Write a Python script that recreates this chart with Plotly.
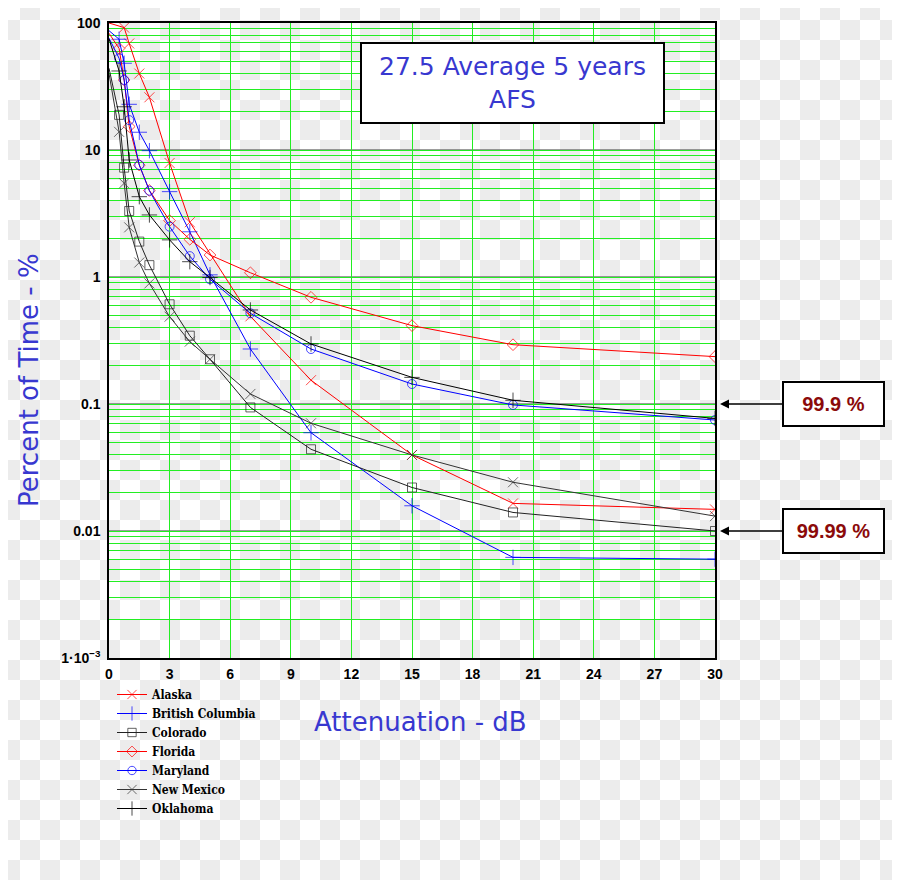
import base64, struct, zlib, math
import plotly.graph_objects as go

# ---------------- data ----------------
atten = [0, 0.5, 0.75, 1, 1.5, 2, 3, 4, 5, 7, 10, 15, 20, 30]
alaska_x = [0, 0.75, 1, 1.5, 2, 3, 4, 7, 10, 15, 20, 30]
alaska = [100, 92, 69, 40, 26, 7.9, 2.7, 0.49, 0.154, 0.0397, 0.0165, 0.0148]
british_columbia = [87, 74.5, 48.2, 22.9, 13.8, 9.88, 4.7, 2.27, 1.04, 0.271, 0.0594, 0.0158, 0.0062, 0.006]
colorado = [44, 18.9, 7.26, 3.31, 1.9, 1.24, 0.61, 0.345, 0.225, 0.094, 0.044, 0.022, 0.014, 0.010]
florida = [83, 63, 35.6, 15.3, 7.6, 4.8, 2.78, 1.98, 1.49, 1.08, 0.692, 0.414, 0.293, 0.236]
maryland = [76, 52.7, 35.6, 17.2, 7.62, 4.78, 2.49, 1.46, 0.96, 0.518, 0.271, 0.1437, 0.0983, 0.0748]
new_mexico = [40, 13.9, 5.47, 2.46, 1.3, 0.89, 0.487, 0.31, 0.225, 0.12, 0.0705, 0.0397, 0.0242, 0.0131]
oklahoma = [75, 41.9, 21.9, 8.34, 4.29, 3.08, 1.96, 1.32, 0.99, 0.55, 0.297, 0.162, 0.107, 0.077]

x_ticks = [0, 3, 6, 9, 12, 15, 18, 21, 24, 27, 30]
y_decades = [0.001, 0.01, 0.1, 1, 10, 100]
y_decade_text = ["1\u00b710<sup>\u22123</sup>", "0.01", "0.1", "1", "10", "100"]
y_minor = [k * 10.0 ** e for e in range(-3, 2) for k in range(2, 10)]

title_text = "27.5 Average 5 years<br>AFS"
callouts = [("99.9 %", 0.1), ("99.99 %", 0.01)]

# ---------------- layout geometry (page pixels) ----------------
W, H = 900, 880
OFF = 8                      # page body margin of the written html
PL, PR, PT, PB = 109, 715, 23, 658   # plot box in page pixels
PW, PH = PR - PL, PB - PT
ML, MT = PL - OFF, PT - OFF
MR, MB = W - PW - ML, H - PH - MT


def px_x(p):
    return (p - PL) / PW


def px_y(p):
    return 1 - (p - PT) / PH


# checkerboard background (transparent-image look of the reference)
def checker_png(w, h, sq=20, light=255, dark=236, off=OFF):
    rows = bytearray()
    for y in range(h):
        rows.append(0)
        r = (y + off) // sq
        for x in range(w):
            rows.append(dark if (((x + off) // sq + r) % 2 == 1) else light)

    def chunk(tag, data):
        c = struct.pack(">I", len(data)) + tag + data
        return c + struct.pack(">I", zlib.crc32(tag + data) & 0xffffffff)
    png = b"\x89PNG\r\n\x1a\n"
    png += chunk(b"IHDR", struct.pack(">IIBBBBB", w, h, 8, 0, 0, 0, 0))
    png += chunk(b"IDAT", zlib.compress(bytes(rows), 9))
    png += chunk(b"IEND", b"")
    return "data:image/png;base64," + base64.b64encode(png).decode()


fig = go.Figure()


def sizes(n, s):
    return [0] + [s] * (n - 1)


series = [
    ("Alaska", alaska_x, alaska, "red", "x-thin-open", 10),
    ("British Columbia", atten, british_columbia, "blue", "cross-thin-open", 11),
    ("Colorado", atten, colorado, "#222222", "square-open", 9),
    ("Florida", atten, florida, "red", "diamond-open", 9),
    ("Maryland", atten, maryland, "blue", "circle-open", 9),
    ("New Mexico", atten, new_mexico, "#333333", "x-thin-open", 10),
    ("Oklahoma", atten, oklahoma, "black", "cross-thin-open", 11),
]
for name, xs, ys, col, sym, ms in series:
    fig.add_trace(go.Scatter(
        x=xs, y=ys, name=name, mode="lines+markers",
        line=dict(color=col, width=1),
        marker=dict(symbol=sym, size=sizes(len(xs), ms), color=col,
                    line=dict(color=col, width=1)),
    ))

green = "#22ee22"
tickfont = dict(family="Liberation Sans, Arial", size=14, color="black", weight="bold")

y_all = sorted(y_decades + y_minor)
y_all_text = [y_decade_text[y_decades.index(v)] if v in y_decades else "" for v in y_all]

fig.update_xaxes(
    range=[0, 30], tickmode="array", tickvals=x_ticks, ticks="",
    showgrid=True, gridcolor=green, gridwidth=1,
    showline=True, linecolor="black", linewidth=1.5, mirror=True,
    zeroline=False, automargin=False, ticklabelstandoff=2,
    tickfont=tickfont,
)
fig.update_yaxes(
    type="log", range=[-3, 2], tickmode="array", tickvals=y_all, ticktext=y_all_text,
    ticks="",
    showgrid=True, gridcolor=green, gridwidth=1,
    showline=True, linecolor="black", linewidth=1.5, mirror=True,
    zeroline=False, automargin=False, ticklabelstandoff=4,
    tickfont=tickfont,
)

# dark decade lines
shapes = [dict(type="line", xref="paper", yref="y", x0=0, x1=1, y0=v, y1=v,
               line=dict(color="#3a3a3a", width=1), layer="between")
          for v in y_decades[1:-1]]

blue_txt = "#3838d0"
comic = "Comic Sans MS, DejaVu Sans"
annotations = [
    dict(text=title_text, xref="paper", yref="paper",
         x=px_x(512), y=px_y(83), xanchor="center", yanchor="middle", showarrow=False,
         font=dict(family=comic, size=25, color=blue_txt),
         bgcolor="white", bordercolor="black", borderwidth=2, borderpad=8,
         width=285),
    dict(text="Percent of Time - %", xref="paper", yref="paper",
         x=px_x(29), y=px_y(380), xanchor="center", yanchor="middle",
         textangle=-90, showarrow=False,
         font=dict(family=comic, size=26, color=blue_txt)),
    dict(text="Attenuation - dB", xref="paper", yref="paper",
         x=px_x(420), y=px_y(722), xanchor="center", yanchor="middle", showarrow=False,
         font=dict(family=comic, size=26, color=blue_txt)),
]
for txt, yv in callouts:
    annotations.append(dict(
        text="<b>" + txt + "</b>", xref="paper", yref="y",
        x=px_x(720), y=math.log10(yv), ax=833.5 - 720, ay=0,
        xanchor="center", yanchor="middle",
        showarrow=True, arrowhead=2, arrowsize=1.2, arrowwidth=1.5, arrowcolor="black",
        font=dict(family="Liberation Sans, Arial", size=20, color="#8b0a0a"),
        bgcolor="white", bordercolor="black", borderwidth=2, borderpad=10,
        width=79,
    ))

fig.update_layout(
    width=W, height=H, autosize=False,
    margin=dict(l=ML, r=MR, t=MT, b=MB, autoexpand=False),
    paper_bgcolor="white", plot_bgcolor="rgba(0,0,0,0)",
    showlegend=True,
    legend=dict(x=px_x(112), y=px_y(680), xanchor="left", yanchor="top",
                bgcolor="rgba(0,0,0,0)", itemwidth=30,
                font=dict(family="DejaVu Serif Condensed, DejaVu Serif", size=12,
                          color="black", weight="bold")),
    annotations=annotations,
    shapes=shapes,
    images=[dict(source=checker_png(W, H), xref="paper", yref="paper",
                 x=-ML / PW, y=1 + MT / PH, sizex=W / PW, sizey=H / PH,
                 xanchor="left", yanchor="top", sizing="stretch", layer="below")],
)

fig.write_html("out.html")
